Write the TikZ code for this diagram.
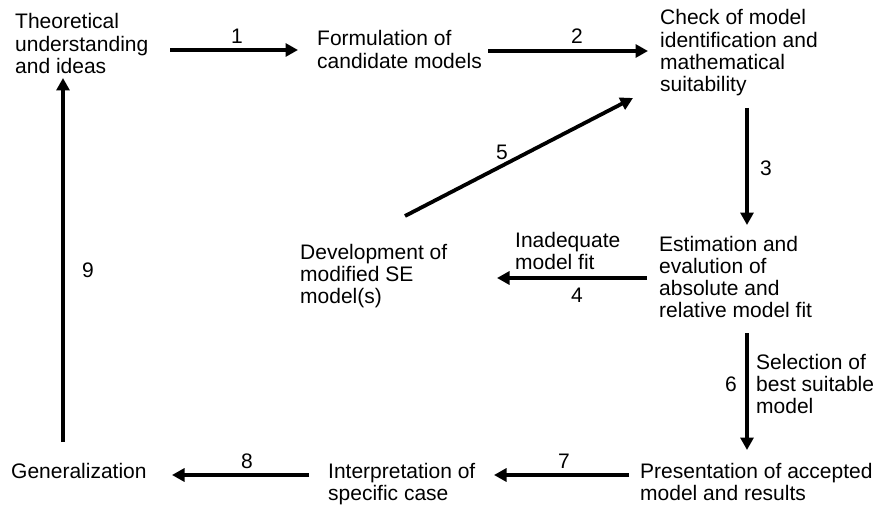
\documentclass[tikz,border=0pt]{standalone}
\usepackage{fontspec}
\setmainfont{Liberation Sans}
\usetikzlibrary{arrows.meta}
\begin{document}
\begin{tikzpicture}[x=1pt,y=-1pt,
  txt/.style={anchor=base west, inner sep=0pt, align=left, font=\fontsize{21}{22.3}\selectfont},
  lbl/.style={inner sep=0pt, font=\fontsize{21}{22.3}\selectfont},
  arr/.style={line width=3.8pt, -{Triangle[length=12.5pt,width=13pt]}}]
\useasboundingbox (0,0) rectangle (876,508);
% texts (anchored at the baseline of their last line)
\node[txt] (theo) at (15,73.6) {Theoretical\\understanding\\and ideas};
\node[txt] (form) at (317,68.3) {Formulation of\\candidate models};
\node[txt] (check) at (660,91.9) {Check of model\\identification and\\mathematical\\suitability};
\node[txt] (dev) at (300,303.6) {Development of\\modified SE\\model(s)};
\node[txt] (inad) at (515,269.3) {Inadequate\\model fit};
\node[txt] (est) at (659,317.9) {Estimation and\\evalution of\\absolute and\\relative model fit};
\node[txt] (sel) at (756,413.6) {Selection of\\best suitable\\model};
\node[txt] (gen) at (11,478) {Generalization};
\node[txt] (interp) at (328,500.3) {Interpretation of\\specific case};
\node[txt] (pres) at (640,500.3) {Presentation of accepted\\model and results};
% arrow end points
\coordinate (a1s) at (170,50);  \coordinate (a1e) at (298,50);
\coordinate (a2s) at (488,51);  \coordinate (a2e) at (648,51);
\coordinate (a3s) at (747,108); \coordinate (a3e) at (747,225);
\coordinate (a4s) at (647,278); \coordinate (a4e) at (497,278);
\coordinate (a5s) at (405,216); \coordinate (a5e) at (633,98);
\coordinate (a6s) at (747,333); \coordinate (a6e) at (747,450);
\coordinate (a7s) at (629,475); \coordinate (a7e) at (494,475);
\coordinate (a8s) at (309,475); \coordinate (a8e) at (172,475);
\coordinate (a9s) at (63,442);  \coordinate (a9e) at (63,78);
\draw[arr] (a1s) -- (a1e);
\draw[arr] (a2s) -- (a2e);
\draw[arr] (a3s) -- (a3e);
\draw[arr] (a4s) -- (a4e);
\draw[arr] (a5s) -- (a5e);
\draw[arr] (a6s) -- (a6e);
\draw[arr] (a7s) -- (a7e);
\draw[arr] (a8s) -- (a8e);
\draw[arr] (a9s) -- (a9e);
% labels
\node[lbl] (l1) at (237,36) {1};
\node[lbl] (l2) at (577,36) {2};
\node[lbl] (l3) at (766,168) {3};
\node[lbl] (l4) at (577,295) {4};
\node[lbl] (l5) at (502,152) {5};
\node[lbl] (l6) at (731,384) {6};
\node[lbl] (l7) at (564,461) {7};
\node[lbl] (l8) at (247,461) {8};
\node[lbl] (l9) at (88,270) {9};
\end{tikzpicture}
\end{document}
